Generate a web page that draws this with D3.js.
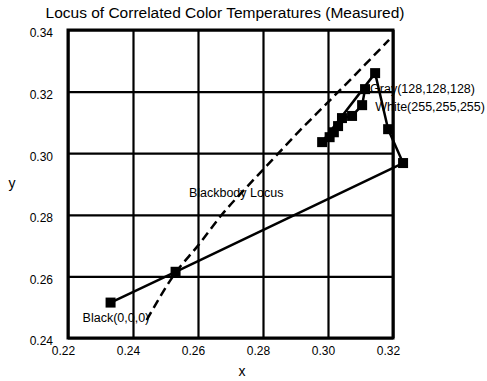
<!DOCTYPE html>
<html>
<head>
<meta charset="utf-8">
<script src="https://cdn.jsdelivr.net/npm/d3@7"></script>
<style>
  body { margin: 0; background: #fff; }
  text { font-family: "Liberation Sans", Arial, sans-serif; fill: #000; }
</style>
</head>
<body>
<svg id="chart"></svg>
<script>
// measured chromaticities, in plotting order
const measuredX = [0.2331, 0.2531, 0.3231, 0.3185, 0.3145, 0.2982, 0.3005, 0.3018, 0.3031, 0.3043, 0.3074, 0.3105, 0.3114];
const measuredY = [0.2515, 0.2615, 0.2968, 0.3078, 0.3260, 0.3036, 0.3052, 0.3068, 0.3088, 0.3114, 0.3121, 0.3156, 0.3208];

// blackbody locus (dashed)
const locusX = [0.2442, 0.2531, 0.2600, 0.2673, 0.2750, 0.2830, 0.2910, 0.2990, 0.3070, 0.3130, 0.3188];
const locusY = [0.2458, 0.2612, 0.2700, 0.2800, 0.2890, 0.2980, 0.3070, 0.3155, 0.3240, 0.3305, 0.3368];

const xTicks = [0.22, 0.24, 0.26, 0.28, 0.30, 0.32];
const yTicks = [0.24, 0.26, 0.28, 0.30, 0.32, 0.34];

const pointLabels = ["Black(0,0,0)", "White(255,255,255)", "Gray(128,128,128)"];
const pointLabelIndex = [0, 11, 12];
const locusLabel = "Blackbody Locus";
const locusLabelAt = [0.2572, 0.2859];

const width = 487, height = 381;
const margin = { top: 30, right: 94, bottom: 43, left: 68 };
const w = width - margin.left - margin.right;
const h = height - margin.top - margin.bottom;

const svg = d3.select("#chart").attr("width", width).attr("height", height);

const x = d3.scaleLinear().domain([0.22, 0.32]).range([margin.left, margin.left + w]);
const y = d3.scaleLinear().domain([0.24, 0.34]).range([margin.top + h, margin.top]);

// grid + tick labels via axes
const xAxis = svg.append("g")
  .attr("transform", `translate(0,${margin.top + h})`)
  .call(d3.axisBottom(x).tickValues(xTicks).tickSize(-h).tickPadding(8).tickFormat(d3.format(".2f")));
const yAxis = svg.append("g")
  .attr("transform", `translate(${margin.left},0)`)
  .call(d3.axisLeft(y).tickValues(yTicks).tickSize(-w).tickPadding(15).tickFormat(d3.format(".2f")));

[xAxis, yAxis].forEach(g => {
  g.select(".domain").remove();
  g.selectAll("line").attr("stroke", "#000").attr("stroke-width", 2.2);
  g.selectAll("text").attr("font-size", 12).style("font-family", '"Liberation Sans", Arial, sans-serif');
});
xAxis.selectAll("text").attr("dx", -5);
yAxis.selectAll("text").attr("dy", "0.32em").attr("transform", "translate(0,3)");

svg.append("rect")
  .attr("x", margin.left).attr("y", margin.top)
  .attr("width", w).attr("height", h)
  .attr("fill", "none").attr("stroke", "#000").attr("stroke-width", 3);

// blackbody locus
const locus = locusX.map((d, i) => [d, locusY[i]]);
svg.append("path")
  .datum(locus)
  .attr("fill", "none")
  .attr("stroke", "#000")
  .attr("stroke-width", 2.5)
  .attr("stroke-dasharray", "9,5")
  .attr("d", d3.line().curve(d3.curveMonotoneX).x(d => x(d[0])).y(d => y(d[1])));

// measured series
const measured = measuredX.map((d, i) => [d, measuredY[i]]);
svg.append("path")
  .datum(measured)
  .attr("fill", "none")
  .attr("stroke", "#000")
  .attr("stroke-width", 2.5)
  .attr("stroke-linejoin", "round")
  .attr("d", d3.line().x(d => x(d[0])).y(d => y(d[1])));

const ms = 10;
svg.append("g").selectAll("rect")
  .data(measured)
  .enter()
  .append("rect")
  .attr("x", d => x(d[0]) - ms / 2)
  .attr("y", d => y(d[1]) - ms / 2)
  .attr("width", ms).attr("height", ms)
  .attr("fill", "#000");

// point labels
const labelOffsets = [[-28, 19], [13, 6], [5, 4]];
svg.append("g").selectAll("text")
  .data(pointLabels)
  .enter()
  .append("text")
  .attr("x", (d, i) => x(measured[pointLabelIndex[i]][0]) + labelOffsets[i][0])
  .attr("y", (d, i) => y(measured[pointLabelIndex[i]][1]) + labelOffsets[i][1])
  .attr("font-size", 12.5)
  .text(d => d);

svg.append("text")
  .attr("x", x(locusLabelAt[0]))
  .attr("y", y(locusLabelAt[1]))
  .attr("font-size", 12.5)
  .text(locusLabel);

// titles
svg.append("text")
  .attr("x", 225).attr("y", 18)
  .attr("text-anchor", "middle")
  .attr("font-size", 15.5)
  .text("Locus of Correlated Color Temperatures (Measured)");

svg.append("text")
  .attr("x", 242).attr("y", 376)
  .attr("text-anchor", "middle")
  .attr("font-size", 14)
  .text("x");

svg.append("text")
  .attr("x", 12).attr("y", 188)
  .attr("text-anchor", "middle")
  .attr("font-size", 14)
  .text("y");
</script>
</body>
</html>
